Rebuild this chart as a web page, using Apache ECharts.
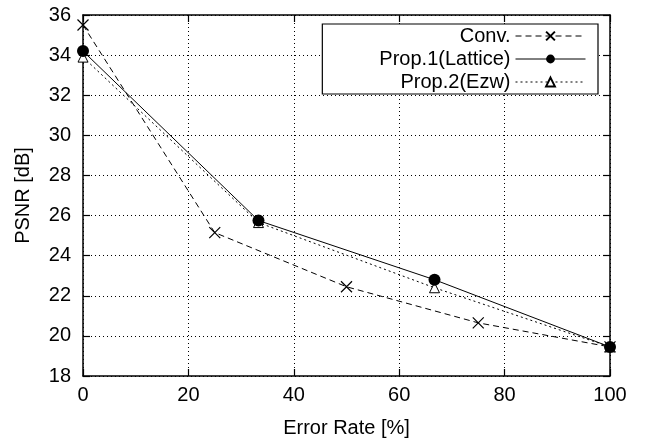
<!DOCTYPE html>
<html>
<head>
<meta charset="utf-8">
<script src="https://cdn.jsdelivr.net/npm/echarts@6/dist/echarts.min.js"></script>
<style>
  html, body { margin: 0; padding: 0; background: #fff; }
  #chart { width: 645px; height: 443px; }
</style>
</head>
<body>
<div id="chart"></div>
<script>
  // data
  var seriesNames = ['Conv.', 'Prop.1(Lattice)', 'Prop.2(Ezw)'];
  var convX = [0, 25, 50, 75, 100];
  var convY = [35.5, 25.15, 22.45, 20.65, 19.45];
  var prop1X = [0, 33.3, 66.7, 100];
  var prop1Y = [34.2, 25.75, 22.8, 19.45];
  var prop2X = [0, 33.3, 66.7, 100];
  var prop2Y = [33.9, 25.65, 22.4, 19.45];
  var xRange = [0, 100, 20];
  var yRange = [18, 36, 2];

  function zip(xs, ys) {
    var out = [];
    for (var i = 0; i < xs.length; i++) {
      out.push([xs[i], ys[i]]);
    }
    return out;
  }

  var font = "'Liberation Sans', Arial, sans-serif";
  var gridLine = { show: true, lineStyle: { color: '#000', type: [1, 3], width: 1 } };
  var border = { show: true, onZero: false, lineStyle: { color: '#000', width: 1.5 } };
  var tick = { show: true, inside: true, length: 7, lineStyle: { color: '#000', width: 1.2 } };

  var myChart = echarts.init(document.getElementById('chart'));
  var option = {
    animation: false,
    textStyle: { fontFamily: font },
    grid: { left: 83, right: 35, top: 15, bottom: 64 },
    legend: {
      orient: 'vertical',
      right: 47,
      top: 24,
      align: 'right',
      backgroundColor: '#fff',
      borderColor: '#000',
      borderWidth: 1.2,
      borderRadius: 0,
      padding: [2, 12, 2, 57],
      itemGap: 3,
      itemWidth: 70,
      itemHeight: 11,
      lineStyle: { width: 1 },
      textStyle: { fontFamily: font, fontSize: 20, color: '#000' },
      data: seriesNames
    },
    xAxis: [
      {
        type: 'value', position: 'bottom',
        min: xRange[0], max: xRange[1], interval: xRange[2],
        name: 'Error Rate [%]', nameLocation: 'middle', nameGap: 42,
        nameTextStyle: { fontFamily: font, fontSize: 20, color: '#000' },
        axisLine: border, axisTick: tick, splitLine: gridLine,
        axisLabel: { fontFamily: font, fontSize: 20, color: '#000', margin: 9 }
      },
      {
        type: 'value', position: 'top',
        min: xRange[0], max: xRange[1], interval: xRange[2],
        axisLine: border, axisTick: tick, splitLine: { show: false },
        axisLabel: { show: false }
      }
    ],
    yAxis: [
      {
        type: 'value', position: 'left',
        min: yRange[0], max: yRange[1], interval: yRange[2],
        name: 'PSNR [dB]', nameLocation: 'middle', nameGap: 50,
        nameTextStyle: { fontFamily: font, fontSize: 20, color: '#000' },
        axisLine: border, axisTick: tick, splitLine: gridLine,
        axisLabel: { fontFamily: font, fontSize: 20, color: '#000', margin: 12 }
      },
      {
        type: 'value', position: 'right',
        min: yRange[0], max: yRange[1], interval: yRange[2],
        axisLine: border, axisTick: tick, splitLine: { show: false },
        axisLabel: { show: false }
      }
    ],
    series: [
      {
        name: seriesNames[0],
        type: 'line',
        data: zip(convX, convY),
        symbol: 'path://M0,0L10,10M10,0L0,10',
        symbolSize: 11,
        lineStyle: { color: '#000', width: 1, type: [6, 4] },
        itemStyle: { color: '#000', borderColor: '#000', borderWidth: 1.2 }
      },
      {
        name: seriesNames[2],
        type: 'line',
        data: zip(prop2X, prop2Y),
        symbol: 'triangle',
        symbolSize: 10,
        lineStyle: { color: '#000', width: 1, type: [2, 3] },
        itemStyle: { color: '#fff', borderColor: '#000', borderWidth: 1 }
      },
      {
        name: seriesNames[1],
        type: 'line',
        data: zip(prop1X, prop1Y),
        symbol: 'circle',
        symbolSize: 12,
        lineStyle: { color: '#000', width: 1, type: 'solid' },
        itemStyle: { color: '#000', borderColor: '#000', borderWidth: 0 }
      }
    ]
  };

  myChart.setOption(option);
</script>
</body>
</html>
